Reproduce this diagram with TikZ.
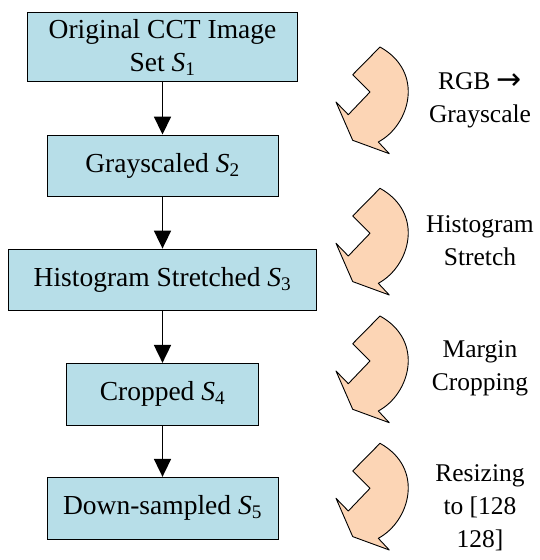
\documentclass[tikz,border=0pt]{standalone}
\usepackage{fontspec}
\setmainfont{Liberation Serif}
\newfontfamily\arrowfont{DejaVu Sans}
\usetikzlibrary{arrows.meta}
\definecolor{boxblue}{RGB}{183,222,232}
\definecolor{peach}{RGB}{252,213,181}
\newcommand\bendarrow[2]{%
  \draw[bendshape, shift={(#1,#2)}] (0,0) -- (-27.3,27.7) -- (-10,45) -- (-31.7,67.7) -- (-44,55)
    -- (-27.3,93.3) -- (9.3,106.7) -- (-1.7,95) .. controls (30,78) and (45,25) .. (0,0) -- cycle;}
\begin{document}
\begin{tikzpicture}[x=1pt,y=-1pt,
 stage/.style={draw=black, line width=0.9pt, fill=boxblue, align=center, inner sep=0pt,
   font=\fontsize{27.5}{33}\selectfont},
 conn/.style={line width=1.8pt, -{Triangle[length=18pt,width=17pt]}},
 lbl/.style={align=center, font=\fontsize{25.5}{33}\selectfont},
 bendshape/.style={draw=black, line width=0.9pt, fill=peach, line join=round}]
\useasboundingbox (0,0) rectangle (539,560);
\node[stage, minimum width=270pt, minimum height=69pt] (b1) at (162.5,47.2) {Original CCT Image\\Set \textit{S}\textsubscript{1}};
\node[stage, minimum width=231pt, minimum height=61pt] (b2) at (162.5,165.5) {Grayscaled \textit{S}\textsubscript{2}};
\node[stage, minimum width=308.4pt, minimum height=61.7pt] (b3) at (162.5,279.9) {Histogram Stretched \textit{S}\textsubscript{3}};
\node[stage, minimum width=192.3pt, minimum height=61.7pt] (b4) at (162.5,394.2) {Cropped \textit{S}\textsubscript{4}};
\node[stage, minimum width=231pt, minimum height=62pt] (b5) at (162.5,508.3) {Down-sampled \textit{S}\textsubscript{5}};
\draw[conn] (b1) -- (b2);
\draw[conn] (b2) -- (b3);
\draw[conn] (b3) -- (b4);
\draw[conn] (b4) -- (b5);
\bendarrow{380}{47}
\bendarrow{380}{188.3}
\bendarrow{380}{316}
\bendarrow{380}{443.3}
\node[lbl] (l1) at (480,100.5) {RGB {\arrowfont\fontsize{30}{33}\selectfont →}\\Grayscale};
\node[lbl] (l2) at (480,240.5) {Histogram\\Stretch};
\node[lbl] (l3) at (480,368) {Margin\\Cropping};
\node[lbl] (l4) at (480,507.5) {Resizing\\to [128\\128]};
\end{tikzpicture}
\end{document}
